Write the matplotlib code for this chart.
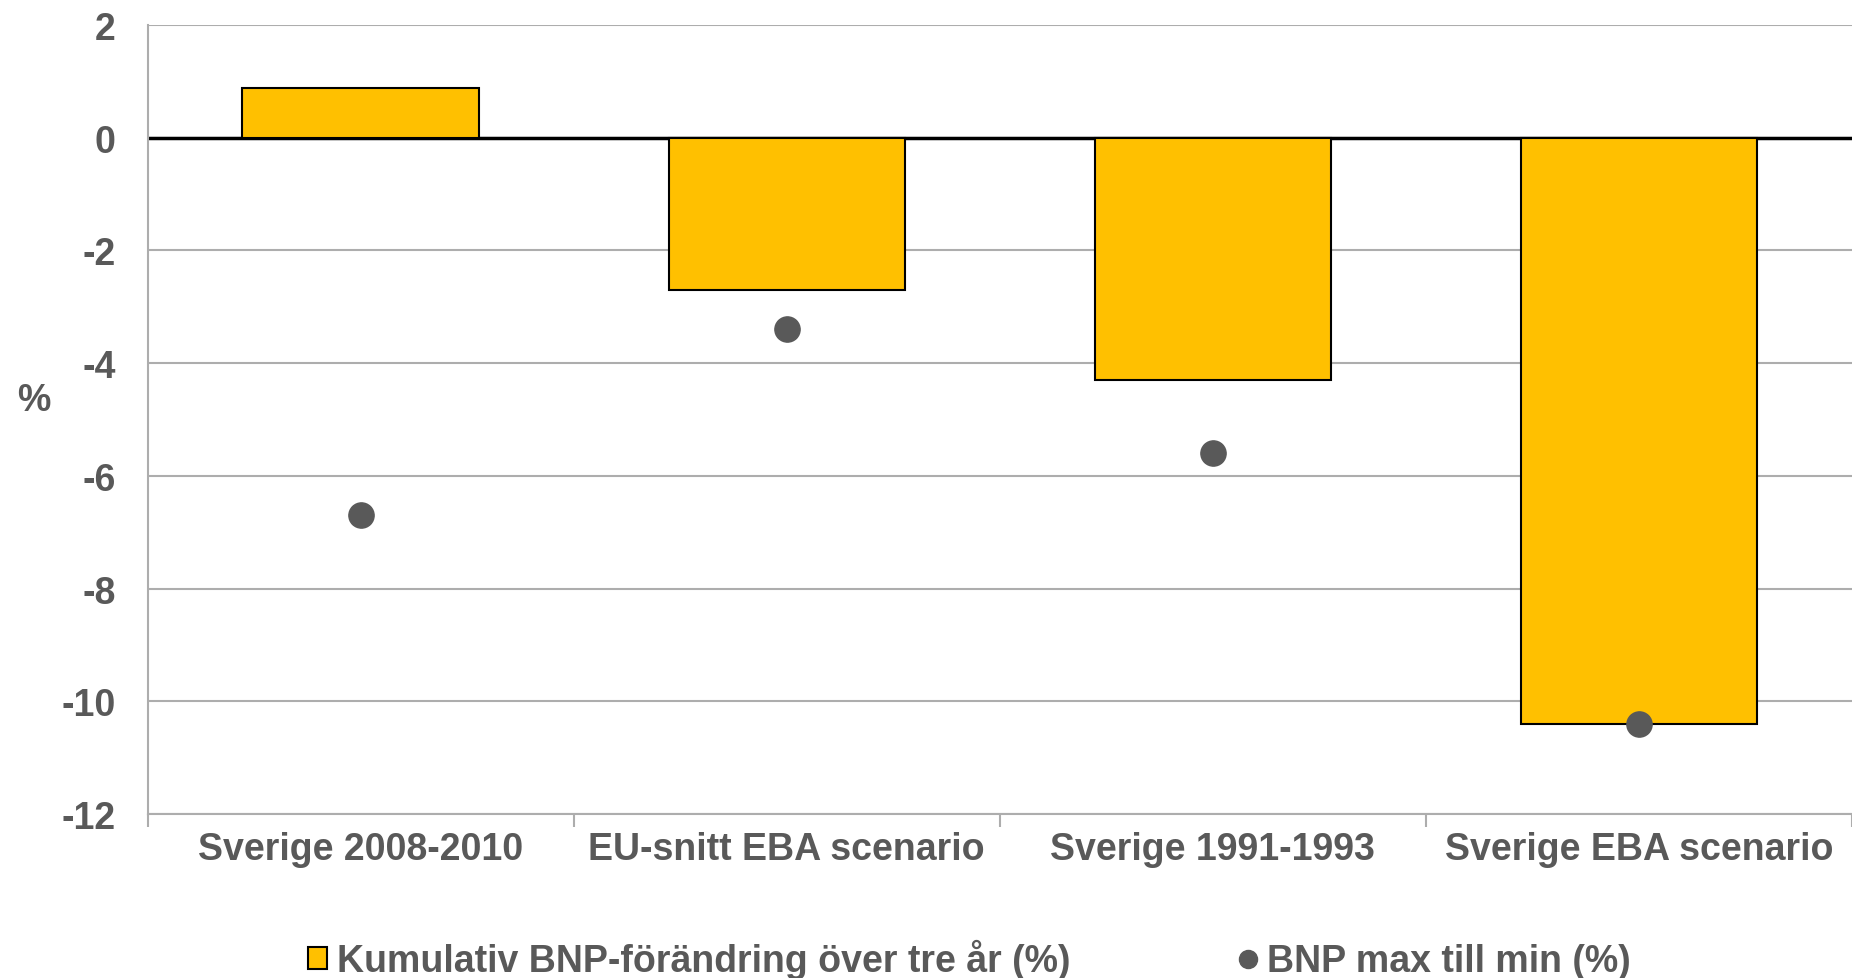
import numpy as np
import matplotlib.pyplot as plt
from matplotlib.lines import Line2D
from matplotlib.patches import Patch

# data
categories = ["Sverige 2008-2010", "EU-snitt EBA scenario", "Sverige 1991-1993", "Sverige EBA scenario"]
kumulativ = [0.88, -2.7, -4.3, -10.4]
max_till_min = [-6.7, -3.4, -5.6, -10.4]
yticks = [2, 0, -2, -4, -6, -8, -10, -12]

bar_label = "Kumulativ BNP-förändring över tre år (%)"
dot_label = "BNP max till min (%)"

txt = '#595959'
plt.rcParams['font.family'] = ['Liberation Sans', 'DejaVu Sans']
plt.rcParams['font.weight'] = 'bold'
plt.rcParams['font.size'] = 27
plt.rcParams['axes.unicode_minus'] = False

fig = plt.figure(figsize=(18.52, 9.79), dpi=100)
ax = fig.add_axes([0.0797, 0.1675, 0.9203, 0.806])

x = np.arange(len(categories))
ax.bar(x, kumulativ, width=0.555, color='#FFC000', edgecolor='black', linewidth=1.5, zorder=3)
ax.axhline(0, color='black', lw=2.5, zorder=2)
ax.scatter(x, max_till_min, s=330, color='#595959', zorder=4)

ax.set_xlim(-0.5, len(categories) - 0.5)
ax.set_ylim(-12, 2)
ax.set_yticks(yticks)
ax.yaxis.grid(True, color='#ADADAD', lw=1.5, zorder=0)
ax.set_axisbelow(True)

ax.set_xticks(x)
ax.set_xticklabels(categories, color=txt)
ax.set_xticks(np.arange(-0.5, len(categories) - 0.4, 1), minor=True)
ax.tick_params(axis='x', which='major', length=0, pad=12)
ax.tick_params(axis='x', which='minor', length=9, color='#ADADAD', width=1.5)
ax.tick_params(axis='y', length=0, pad=23, labelcolor=txt)

for s in ['top', 'right']:
    ax.spines[s].set_visible(False)
ax.spines['left'].set_color('#ADADAD')
ax.spines['left'].set_linewidth(1.5)
ax.spines['bottom'].set_color('#ADADAD')
ax.spines['bottom'].set_linewidth(1.5)

fig.text(0.009, 0.59, "%", color=txt, fontsize=27, ha='left', va='center')

handles = [Patch(facecolor='#FFC000', edgecolor='black', linewidth=1.5),
           Line2D([], [], marker='o', ls='', color='#595959', markersize=13)]
fig.legend(handles, [bar_label, dot_label], loc='lower center', bbox_to_anchor=(0.5235, -0.036),
           ncol=2, frameon=False, labelcolor=txt, columnspacing=4.5, handlelength=0.5,
           handleheight=0.5, handletextpad=0.25)

fig.savefig("out.png", dpi=100)
